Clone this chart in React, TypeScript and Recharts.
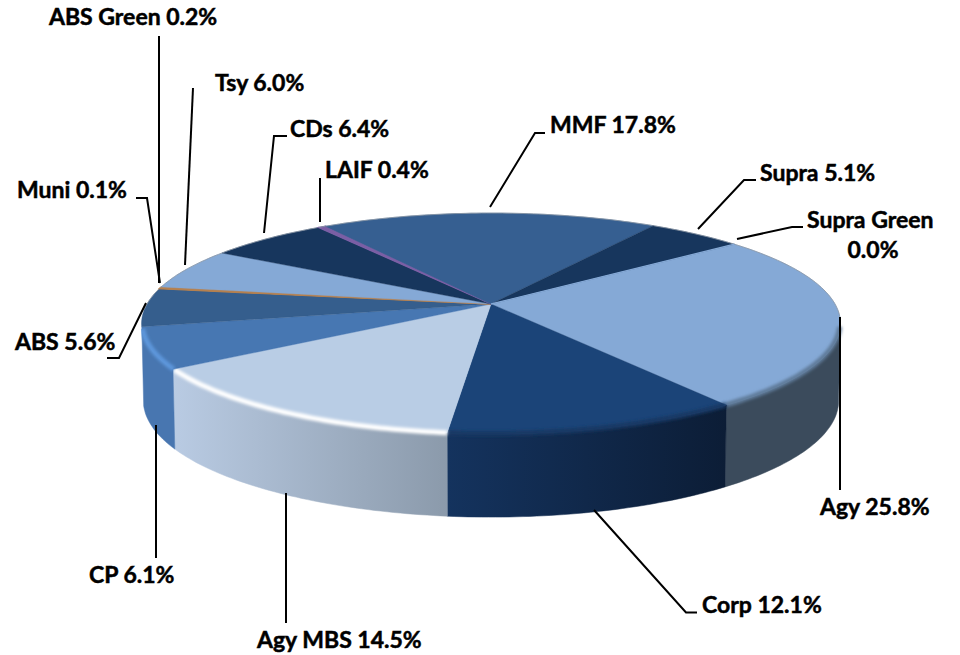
import React from 'react';
import { PieChart, Pie } from 'recharts';

const categories = ['Agy', 'Corp', 'Agy MBS', 'CP', 'ABS', 'Muni', 'ABS Green', 'Tsy', 'CDs', 'LAIF', 'MMF', 'Supra', 'Supra Green'];
const values = [25.8, 12.1, 14.5, 6.1, 5.6, 0.1, 0.2, 6.0, 6.4, 0.4, 17.8, 5.1, 0.0];

const topColors = ['#85A9D6', '#1B4478', '#B9CDE5', '#4777B2', '#355E8D', '#B5804F', '#B5804F', '#85A9D6', '#17365D', '#7B5FA5', '#365F91', '#17365D', '#85A9D6'];
const wallFrom = ['#3B4B5C', '#14335E', '#B9CBE3', '#4876B0', '#355E8D', '#BC8350', '#C0824B', '#85A9D6', '#17365D', '#7B5FA5', '#365F91', '#17365D', '#85A9D6'];
const wallTo = ['#3B4B5C', '#0C1D36', '#8B9AAB', '#4876B0', '#355E8D', '#BC8350', '#C0824B', '#85A9D6', '#17365D', '#7B5FA5', '#365F91', '#17365D', '#85A9D6'];
const bevelColors = ['#5E7A99', '#173763', '#FFFFFF', '#5D97DC', '#355E8D', '#BC8350', '#C0824B', '#85A9D6', '#17365D', '#7B5FA5', '#365F91', '#17365D', '#85A9D6'];

// leader line points and text spot per slice, same order as categories
const leaders = [
  [[840, 317], [840, 490]],
  [[594, 510], [686, 612.5], [697, 612.5]],
  [[286, 493], [286, 623]],
  [[156, 425], [156, 558]],
  [[146, 303], [119, 358], [107, 358]],
  [[160, 283], [147, 198], [136, 198]],
  [[159, 283], [159, 36]],
  [[185, 265], [193, 88]],
  [[264, 233], [274, 136], [287, 136]],
  [[320, 222], [320, 178]],
  [[490, 207], [535, 133], [545, 133]],
  [[698, 229], [744, 180], [756, 180]],
  [[737, 239], [792, 227], [803, 227]],
];
const textSpots = [
  [820, 515], [702, 613], [257, 648], [89, 583], [15, 350], [17, 198], [49, 25],
  [215, 91], [290, 137], [325, 178], [550, 133], [760, 181], [807, 228],
];

const k = 0.1765; // perspective of the disc
const squash = 0.311;
const rad = Math.PI / 180;

const project = (cx: number, cy: number, r: number, deg: number, f = 1, drop = 0) => {
  // slight sideways turn of the view
  const seen = deg - 0.5 + 2.2 * Math.cos(deg * rad);
  const u = Math.cos(seen * rad) * f;
  const v = Math.sin(seen * rad) * f;
  const d = 1 - k * v;
  return [cx + (r * u) / d, cy + (r * squash * v) / d + drop];
};

const arc = (cx: number, cy: number, r: number, from: number, to: number, f = 1, bottom = false) => {
  const n = Math.max(1, Math.ceil(Math.abs(to - from)));
  const pts: string[] = [];
  for (let i = 0; i <= n; i++) {
    const deg = from + ((to - from) * i) / n;
    const drop = bottom ? 76 + 8 * Math.sin(deg * rad) : 0;
    const p = project(cx, cy, r, deg, bottom ? 0.995 : f, drop);
    pts.push(`${p[0].toFixed(1)},${p[1].toFixed(1)}`);
  }
  return pts;
};

const Slice = (props: any) => {
  const { cx, cy, outerRadius, startAngle, endAngle, name } = props;
  const i = categories.indexOf(name);
  const from = -startAngle;
  const to = -endAngle;
  const top = `M${cx},${cy} L${arc(cx, cy, outerRadius, from, to).join(' L')} Z`;
  // the wall only shows on the front part of the rim
  const a = Math.max(from, 10.2);
  const b = Math.min(to, 169.8);
  const hasWall = b > a;
  const id = `wall-${i}`;
  return (
    <g>
      {hasWall && (
        <>
          <defs>
            <linearGradient id={id} x1="0" y1="0" x2="1" y2="0">
              <stop offset="0%" stopColor={wallFrom[i]} />
              <stop offset="100%" stopColor={wallTo[i]} />
            </linearGradient>
            <filter id={`blur-${i}`} x="-5%" y="-30%" width="110%" height="160%">
              <feGaussianBlur stdDeviation="1.6" />
            </filter>
          </defs>
          <path
            d={`M${arc(cx, cy, outerRadius, a, b).join(' L')} L${arc(cx, cy, outerRadius, b, a, 1, true).join(' L')} Z`}
            fill={`url(#${id})`}
            stroke={`url(#${id})`}
            strokeWidth={0.5}
          />
        </>
      )}
      <path d={top} fill={topColors[i]} stroke={topColors[i]} strokeWidth={to - from < 2 ? 1.3 : 0.4} />
      {hasWall && (
        <path
          d={`M${arc(cx, cy, outerRadius, a, b, 0.998).join(' L')}`}
          fill="none"
          stroke={bevelColors[i]}
          strokeWidth={5}
          filter={`url(#blur-${i})`}
        />
      )}
      {to > 180 && (
        <path
          d={`M${arc(cx, cy, outerRadius, Math.max(from, 180), to).join(' L')}`}
          fill="none"
          stroke="#8A96A3"
          strokeWidth={0.8}
        />
      )}
      {from < 0 && (
        <path
          d={`M${arc(cx, cy, outerRadius, from, Math.min(to, 10)).join(' L')}`}
          fill="none"
          stroke="#8A96A3"
          strokeWidth={0.8}
        />
      )}
    </g>
  );
};

const labelFont = { fontFamily: 'Lato', fontWeight: 700, fontSize: 23, fill: '#000', stroke: '#000', strokeWidth: 0.5 };

const SliceLabel = (props: any) => {
  const { name, value } = props;
  const i = categories.indexOf(name);
  const pts = leaders[i].map((p) => p.join(',')).join(' ');
  const [x, y] = textSpots[i];
  const pct = `${value.toFixed(1)}%`;
  return (
    <g>
      <polyline points={pts} fill="none" stroke="#000" strokeWidth={2} />
      {name === 'Supra Green' ? (
        <>
          <text x={x} y={y} {...labelFont}>{name}</text>
          <text x={x + 66} y={y + 30} textAnchor="middle" {...labelFont}>{pct}</text>
        </>
      ) : (
        <text x={x} y={y} {...labelFont}>
          {`${name} ${pct}`}
        </text>
      )}
    </g>
  );
};

const data = categories.map((name, i) => ({ name, value: values[i] }));

export default function App() {
  return (
    <div style={{ position: 'absolute', left: 0, top: 0, width: 960, height: 655 }}>
      <PieChart width={960} height={655} margin={{ top: 0, right: 0, bottom: 0, left: 0 }}>
        <Pie
          data={data}
          dataKey="value"
          nameKey="name"
          cx={491}
          cy={304}
          innerRadius={0}
          outerRadius={344}
          startAngle={39.5}
          endAngle={-320.5}
          shape={Slice}
          label={SliceLabel}
          labelLine={false}
          isAnimationActive={false}
        />
      </PieChart>
    </div>
  );
}
